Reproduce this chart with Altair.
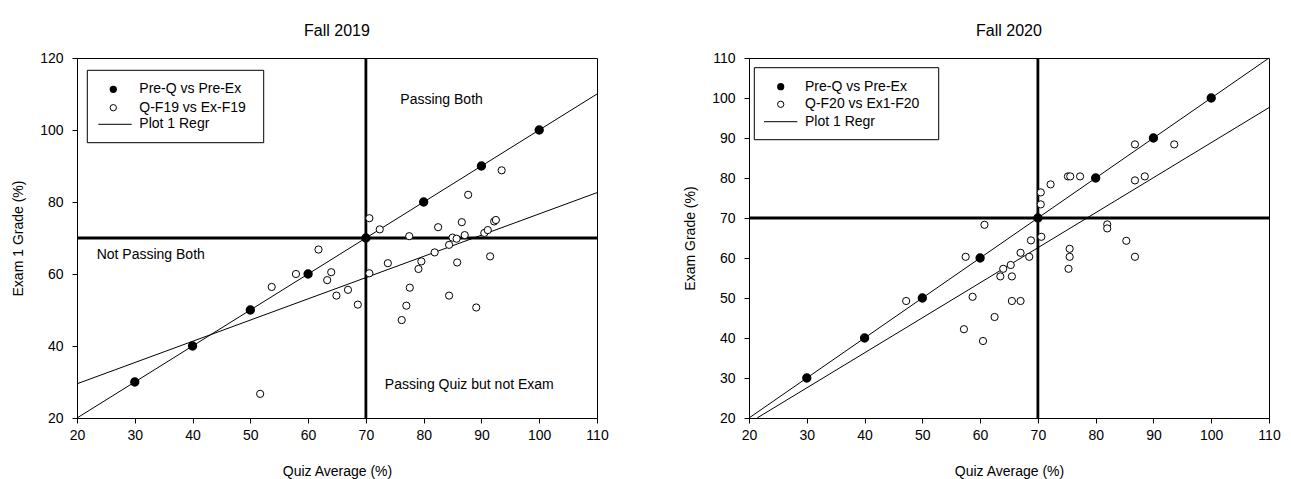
import altair as alt
import pandas as pd

FONT = "Liberation Sans"

# ---------------- data ----------------
pre_quiz = [30, 40, 50, 60, 70, 80, 90, 100]
pre_exam = [30, 40, 50, 60, 70, 80, 90, 100]

f19_quiz = [70.6, 72.4, 77.5, 82.5, 87.7, 86.6, 93.5, 92.2, 92.5, 85.0, 85.7, 87.1,
            90.5, 91.1, 84.4, 81.9, 79.6, 79.1, 85.8, 91.5, 73.8, 70.6, 77.6, 77.0,
            76.2, 84.4, 89.1, 68.6, 66.9, 64.9, 64.0, 63.3, 61.8, 57.9, 53.7, 51.7]
f19_exam = [75.5, 72.4, 70.5, 73.0, 82.0, 74.4, 88.8, 74.6, 75.0, 70.1, 69.8, 70.8,
            71.4, 72.2, 68.1, 66.0, 63.5, 61.4, 63.2, 64.9, 63.0, 60.2, 56.2, 51.2,
            47.2, 54.0, 50.7, 51.5, 55.6, 54.0, 60.5, 58.3, 66.8, 60.0, 56.4, 26.7]

f20_quiz = [60.75, 57.5, 47.2, 58.7, 57.2, 60.5, 62.5, 65.5, 67.0, 63.5, 65.5, 64.0,
            65.3, 67.0, 68.5, 68.8, 70.6, 70.5, 70.5, 72.2, 75.2, 75.6, 77.3, 86.8,
            93.6, 86.8, 88.5, 82.0, 82.0, 85.3, 86.8, 75.5, 75.5, 75.3]
f20_exam = [68.3, 60.3, 49.25, 50.3, 42.2, 39.25, 45.25, 49.25, 49.25, 55.4, 55.4, 57.3,
            58.25, 61.3, 60.3, 64.4, 65.3, 73.4, 76.4, 78.4, 80.4, 80.4, 80.4, 88.4,
            88.4, 79.4, 80.4, 68.4, 67.4, 64.3, 60.3, 62.3, 60.3, 57.3]

ident_x = [20, 110]
ident_y = [20, 110]
f19_regr_x = [20, 110]
f19_regr_y = [29.5, 82.6]
f20_regr_x = [21.4, 110]
f20_regr_y = [20, 97.6]

f19_notes = ["Passing Both", "Not Passing Both", "Passing Quiz but not Exam"]
f19_note_x = [83.1, 23.4, 87.9]
f19_note_y = [108.2, 65.3, 29.2]

f19_legend = ["Pre-Q vs Pre-Ex", "Q-F19 vs Ex-F19", "Plot 1 Regr"]
f20_legend = ["Pre-Q vs Pre-Ex", "Q-F20 vs Ex1-F20", "Plot 1 Regr"]

x_ticks = [20, 30, 40, 50, 60, 70, 80, 90, 100, 110]
f19_y_ticks = [20, 40, 60, 80, 100, 120]
f20_y_ticks = [20, 30, 40, 50, 60, 70, 80, 90, 100, 110]


def panel(title, ytitle, ydomain, yticks, oq, oe, rx, ry, legend_labels, lg, notes=None):
    xs = alt.Scale(domain=[20, 110], nice=False, zero=False)
    ys = alt.Scale(domain=ydomain, nice=False, zero=False)
    xax = alt.Axis(values=x_ticks, title="Quiz Average (%)", labelFlush=False,
                   labelOverlap=False, labelPadding=5, titlePadding=22)
    yax = alt.Axis(values=yticks, title=ytitle, labelPadding=9, titlePadding=14,
                   labelOverlap=False, minExtent=38, maxExtent=38)

    def X():
        return alt.X("x:Q", scale=xs, axis=xax)

    def Y():
        return alt.Y("y:Q", scale=ys, axis=yax)

    ident = pd.DataFrame({"x": ident_x, "y": ident_y})
    regr = pd.DataFrame({"x": rx, "y": ry})
    pre = pd.DataFrame({"x": pre_quiz, "y": pre_exam})
    opn = pd.DataFrame({"x": oq, "y": oe})

    base_line = alt.Chart(ident).mark_line(color="black", strokeWidth=1).encode(x=X(), y=Y())
    regr_line = alt.Chart(regr).mark_line(color="black", strokeWidth=1).encode(x=X(), y=Y())
    vrule = alt.Chart(alt.Data(values=[{}])).mark_rule(color="black", strokeWidth=2.8).encode(
        x=alt.datum(70, scale=xs, axis=xax))
    hrule = alt.Chart(alt.Data(values=[{}])).mark_rule(color="black", strokeWidth=2.8).encode(
        y=alt.datum(70, scale=ys, axis=yax))
    open_pts = alt.Chart(opn).mark_point(shape="circle", filled=True, fill="white",
                                         stroke="black", strokeWidth=1, opacity=1,
                                         size=52).encode(x=X(), y=Y())
    pre_pts = alt.Chart(pre).mark_point(shape="circle", filled=True, fill="black",
                                        stroke="black", opacity=1, size=54).encode(x=X(), y=Y())

    layers = [vrule, hrule, base_line, regr_line, open_pts, pre_pts]

    if notes is not None:
        labels, nx, ny = notes
        nd = pd.DataFrame({"t": labels, "x": nx, "y": ny})
        for i in range(len(labels)):
            align = "left" if labels[i].startswith("Not") else "center"
            layers.append(alt.Chart(nd.iloc[[i]]).mark_text(
                align=align, baseline="middle", font=FONT, fontSize=14, color="black").encode(
                x=X(), y=Y(), text="t:N"))

    # legend box (pixel positions inside plot)
    one = alt.Data(values=[{}])
    bx0, bx1, by0, by1, symx, txtx, rows, lx0, lx1 = lg
    layers.append(alt.Chart(one).mark_rect(fill="white", stroke="black", strokeWidth=1).encode(
        x=alt.value(bx0), x2=alt.value(bx1), y=alt.value(by0), y2=alt.value(by1)))
    layers.append(alt.Chart(one).mark_point(shape="circle", filled=True, fill="black",
                                            opacity=1, size=52).encode(
        x=alt.value(symx), y=alt.value(rows[0])))
    layers.append(alt.Chart(one).mark_point(shape="circle", filled=True, fill="white",
                                            stroke="black", strokeWidth=1, opacity=1,
                                            size=40).encode(
        x=alt.value(symx), y=alt.value(rows[1])))
    layers.append(alt.Chart(one).mark_rule(color="black", strokeWidth=1).encode(
        x=alt.value(lx0), x2=alt.value(lx1), y=alt.value(rows[2])))
    for i, lab in enumerate(legend_labels):
        layers.append(alt.Chart(one).mark_text(
            align="left", baseline="middle", font=FONT, fontSize=14, color="black").encode(
            x=alt.value(txtx), y=alt.value(rows[i]), text=alt.value(lab)))

    return alt.layer(*layers).properties(
        width=520, height=360,
        title=alt.TitleParams(title, fontSize=16, font=FONT, fontWeight="normal",
                              offset=12, color="black"))


left = panel("Fall 2019", "Exam 1 Grade (%)", [20, 120], f19_y_ticks, f19_quiz, f19_exam,
             f19_regr_x, f19_regr_y, f19_legend,
             (10.3, 186.7, 12.3, 84.7, 36.3, 62.3, [31.3, 49.7, 66.3], 21.3, 54.7),
             notes=(f19_notes, f19_note_x, f19_note_y))
right = panel("Fall 2020", "Exam Grade (%)", [20, 110], f20_y_ticks, f20_quiz, f20_exam,
              f20_regr_x, f20_regr_y, f20_legend,
              (5.3, 189.7, 9.7, 81.7, 31.7, 56.0, [28.7, 46.3, 63.7], 15.0, 48.3))

chart = alt.hconcat(left, right, spacing=73).properties(
    padding={"left": 2, "top": 14, "right": 0, "bottom": 0}
).configure_axis(
    grid=False, labelFont=FONT, titleFont=FONT, labelFontSize=14, titleFontSize=14,
    titleFontWeight="normal", labelColor="black", titleColor="black",
    domainColor="black", tickColor="black", tickSize=5, domainWidth=1, tickWidth=1
).configure_view(stroke="black", strokeWidth=1)

chart.save("out.html", embed_options={"renderer": "svg", "actions": False})
